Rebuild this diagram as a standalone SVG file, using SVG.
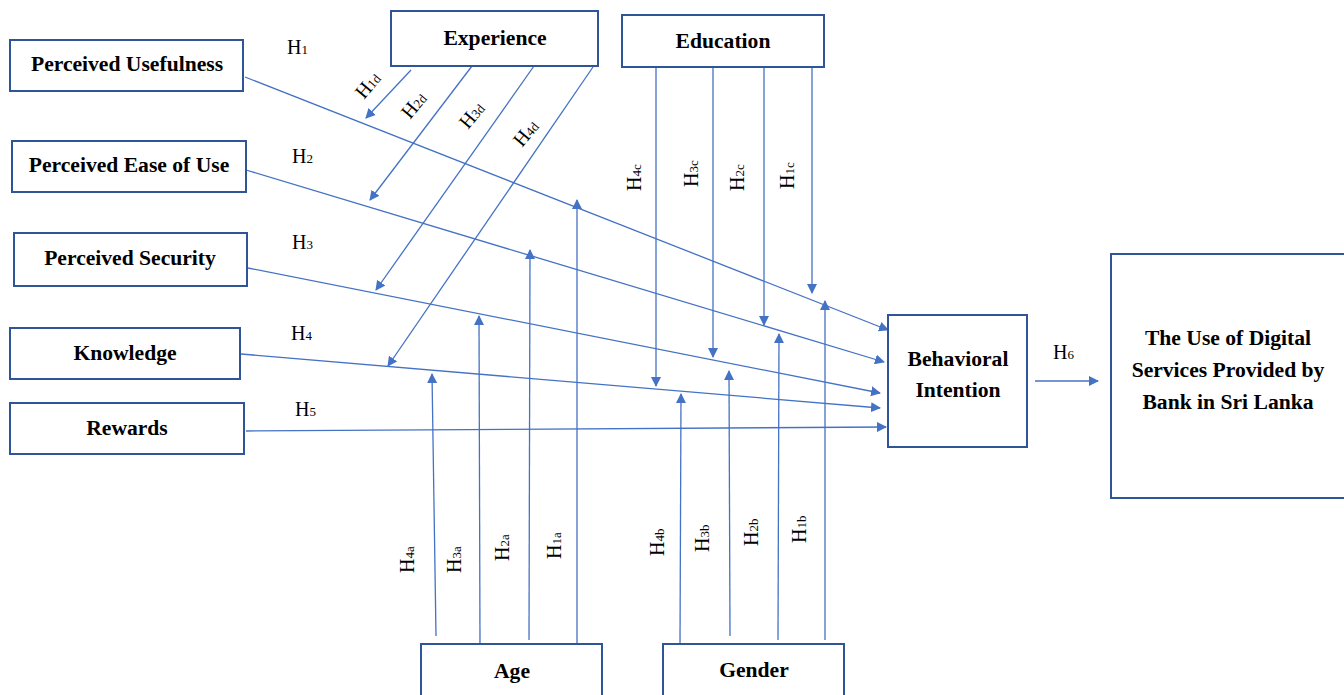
<svg xmlns="http://www.w3.org/2000/svg" width="1344" height="695" viewBox="0 0 1344 695">
<defs>
<marker id="ah" viewBox="0 0 10 10" refX="9" refY="5" markerWidth="10" markerHeight="10" markerUnits="userSpaceOnUse" orient="auto">
<path d="M0,0 L10,5 L0,10 Z" fill="#4472C4"/>
</marker>
<style>
.box{fill:#fff;stroke:#2F5597;stroke-width:2}
.bt{font-family:"Liberation Serif","Times New Roman",serif;font-weight:bold;font-size:21.6px;fill:#000;text-anchor:middle}
.ln{stroke:#4472C4;stroke-width:1.3;fill:none;marker-end:url(#ah)}
.lb{font-family:"Liberation Serif","Times New Roman",serif;font-size:20px;fill:#000}
.sb{font-size:13px}
</style>
</defs>
<rect width="1344" height="695" fill="#fff"/>

<g id="connectors">
<line class="ln" x1="245" y1="77" x2="888" y2="330"/>
<line class="ln" x1="246" y1="170" x2="884" y2="362"/>
<line class="ln" x1="248" y1="268" x2="880" y2="393"/>
<line class="ln" x1="241" y1="354" x2="880" y2="408"/>
<line class="ln" x1="246" y1="431" x2="886" y2="427"/>
<line class="ln" x1="1035" y1="381" x2="1098" y2="381"/>

<line class="ln" x1="411" y1="70" x2="366" y2="118"/>
<line class="ln" x1="472" y1="66" x2="370" y2="200"/>
<line class="ln" x1="534" y1="66" x2="376" y2="290"/>
<line class="ln" x1="593" y1="67" x2="388" y2="366"/>

<line class="ln" x1="656" y1="67" x2="656" y2="386"/>
<line class="ln" x1="713" y1="67" x2="713" y2="357"/>
<line class="ln" x1="764" y1="67" x2="764" y2="325"/>
<line class="ln" x1="812" y1="67" x2="812" y2="293"/>

<line class="ln" x1="436" y1="636" x2="432" y2="374"/>
<line class="ln" x1="480" y1="644" x2="479" y2="316"/>
<line class="ln" x1="529" y1="640" x2="530" y2="250"/>
<line class="ln" x1="577" y1="644" x2="577" y2="200"/>

<line class="ln" x1="680" y1="644" x2="681" y2="394"/>
<line class="ln" x1="730" y1="636" x2="729" y2="371"/>
<line class="ln" x1="778" y1="640" x2="779" y2="334"/>
<line class="ln" x1="825" y1="640" x2="825" y2="301"/>
</g>

<g id="labels">
<text class="lb" x="287" y="54">H<tspan class="sb">1</tspan></text>
<text class="lb" x="292" y="163">H<tspan class="sb">2</tspan></text>
<text class="lb" x="292" y="249">H<tspan class="sb">3</tspan></text>
<text class="lb" x="291" y="340">H<tspan class="sb">4</tspan></text>
<text class="lb" x="295" y="416">H<tspan class="sb">5</tspan></text>
<text class="lb" x="1053" y="359">H<tspan class="sb">6</tspan></text>

<text class="lb" transform="translate(364,100) rotate(-50)">H<tspan class="sb">1d</tspan></text>
<text class="lb" transform="translate(410,120) rotate(-50)">H<tspan class="sb">2d</tspan></text>
<text class="lb" transform="translate(468,130) rotate(-50)">H<tspan class="sb">3d</tspan></text>
<text class="lb" transform="translate(522,148) rotate(-50)">H<tspan class="sb">4d</tspan></text>

<text class="lb" transform="translate(641,191) rotate(-90)">H<tspan class="sb">4c</tspan></text>
<text class="lb" transform="translate(698,187) rotate(-90)">H<tspan class="sb">3c</tspan></text>
<text class="lb" transform="translate(744,191) rotate(-90)">H<tspan class="sb">2c</tspan></text>
<text class="lb" transform="translate(794,189) rotate(-90)">H<tspan class="sb">1c</tspan></text>

<text class="lb" transform="translate(414,573) rotate(-90)">H<tspan class="sb">4a</tspan></text>
<text class="lb" transform="translate(461,573) rotate(-90)">H<tspan class="sb">3a</tspan></text>
<text class="lb" transform="translate(509,561) rotate(-90)">H<tspan class="sb">2a</tspan></text>
<text class="lb" transform="translate(561,559) rotate(-90)">H<tspan class="sb">1a</tspan></text>

<text class="lb" transform="translate(664,556) rotate(-90)">H<tspan class="sb">4b</tspan></text>
<text class="lb" transform="translate(709,552) rotate(-90)">H<tspan class="sb">3b</tspan></text>
<text class="lb" transform="translate(758,546) rotate(-90)">H<tspan class="sb">2b</tspan></text>
<text class="lb" transform="translate(806,543) rotate(-90)">H<tspan class="sb">1b</tspan></text>
</g>

<g id="n-pu"><rect class="box" x="10" y="40" width="233" height="51"/><text class="bt" x="127" y="71">Perceived Usefulness</text></g>
<g id="n-peou"><rect class="box" x="12" y="141" width="234" height="51"/><text class="bt" x="129" y="172">Perceived Ease of Use</text></g>
<g id="n-ps"><rect class="box" x="14" y="233" width="233" height="53"/><text class="bt" x="130" y="265">Perceived Security</text></g>
<g id="n-kn"><rect class="box" x="10" y="328" width="230" height="51"/><text class="bt" x="125" y="360">Knowledge</text></g>
<g id="n-rw"><rect class="box" x="10" y="403" width="234" height="51"/><text class="bt" x="127" y="435">Rewards</text></g>
<g id="n-exp"><rect class="box" x="391" y="11" width="207" height="55"/><text class="bt" x="495" y="45">Experience</text></g>
<g id="n-edu"><rect class="box" x="622" y="15" width="202" height="52"/><text class="bt" x="723" y="48">Education</text></g>
<g id="n-age"><rect class="box" x="421" y="644" width="181" height="60"/><text class="bt" x="512" y="678">Age</text></g>
<g id="n-gen"><rect class="box" x="663" y="644" width="181" height="60"/><text class="bt" x="754" y="677">Gender</text></g>
<g id="n-bi"><rect class="box" x="888" y="315" width="139" height="132"/><text class="bt" x="958" y="366">Behavioral</text><text class="bt" x="958" y="397">Intention</text></g>
<g id="n-use"><rect class="box" x="1111" y="254" width="240" height="244"/><text class="bt" x="1228" y="345">The Use of Digital</text><text class="bt" x="1228" y="377">Services Provided by</text><text class="bt" x="1228" y="409">Bank in Sri Lanka</text></g>
</svg>
